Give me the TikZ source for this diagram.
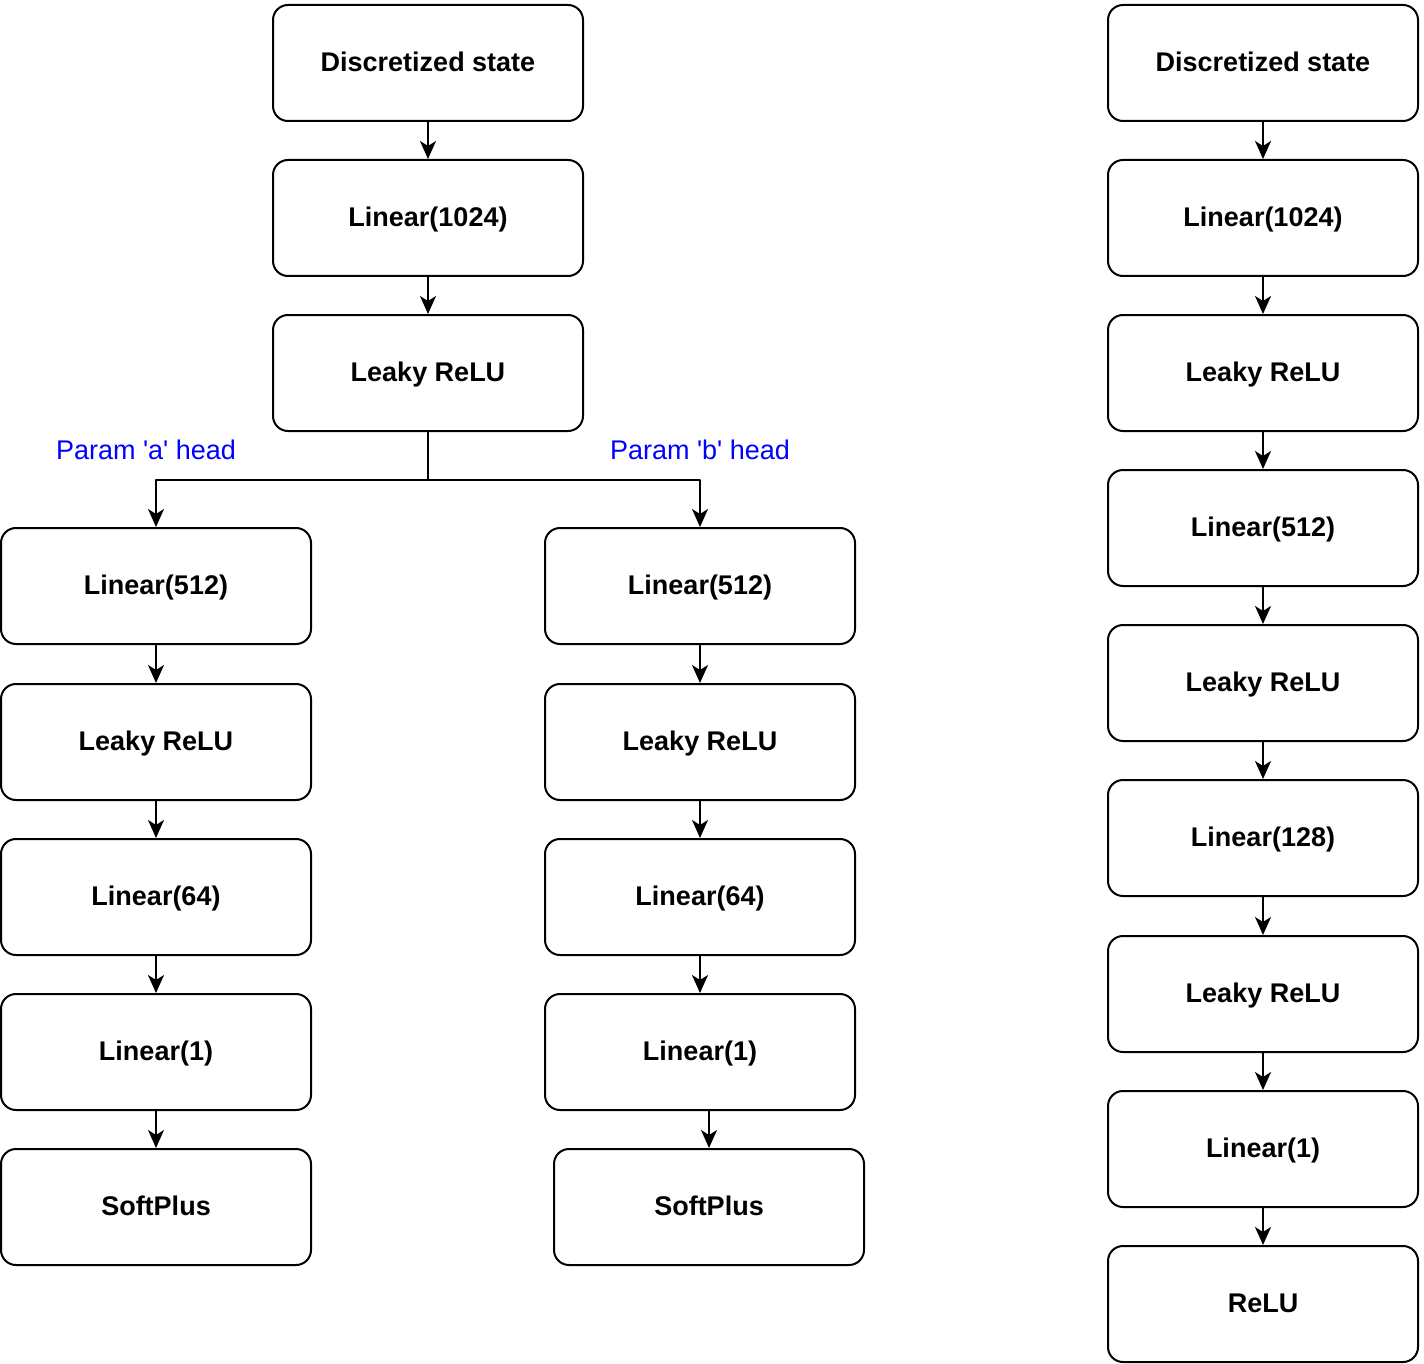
\documentclass[tikz,border=0pt]{standalone}
\usepackage{fontspec}
\setmainfont{Liberation Sans}
\usetikzlibrary{arrows.meta}
\tikzset{
	layer/.style={draw,line width=2pt,rounded corners=15pt,minimum width=310pt,minimum height=116pt,
		inner sep=0pt,text height=19pt,text depth=2pt,font=\fontsize{27}{31}\selectfont\bfseries},
	headlabel/.style={text=blue,font=\fontsize{27}{31}\selectfont},
	flow/.style={line width=2pt,-{Stealth[length=18pt,width=16pt,inset=5pt]}}
}
\begin{document}
\begin{tikzpicture}[x=1pt,y=-1pt,line join=round]
	\useasboundingbox (0,0) rectangle (1424,1364);
	% trunk
	\node[layer] (t1) at (428,63) {Discretized state};
	\node[layer] (t2) at (428,218) {Linear(1024)};
	\node[layer] (t3) at (428,373) {Leaky ReLU};
	\draw[flow] (t1.south) -- (t2.north);
	\draw[flow] (t2.south) -- (t3.north);
	% heads
	\node[layer] (a1) at (156,586) {Linear(512)};
	\node[layer] (a2) at (156,742) {Leaky ReLU};
	\node[layer] (a3) at (156,897) {Linear(64)};
	\node[layer] (a4) at (156,1052) {Linear(1)};
	\node[layer] (a5) at (156,1207) {SoftPlus};
	\node[layer] (b1) at (700,586) {Linear(512)};
	\node[layer] (b2) at (700,742) {Leaky ReLU};
	\node[layer] (b3) at (700,897) {Linear(64)};
	\node[layer] (b4) at (700,1052) {Linear(1)};
	\node[layer] (b5) at (709,1207) {SoftPlus};
	\foreach \i/\j in {1/2,2/3,3/4,4/5}{
		\draw[flow] (a\i.south) -- (a\j.north);
	}
	\foreach \i/\j in {1/2,2/3,3/4}{
		\draw[flow] (b\i.south) -- (b\j.north);
	}
	\draw[flow] (b5.north |- b4.south) -- (b5.north);
	\coordinate (split) at (428,480);
	\draw[line width=2pt] (t3.south) -- (split);
	\draw[flow] (split) -| (a1.north);
	\draw[flow] (split) -| (b1.north);
	\node[headlabel] (alabel) at (146,450) {Param \textquotesingle a\textquotesingle{} head};
	\node[headlabel] (blabel) at (700,450) {Param \textquotesingle b\textquotesingle{} head};
	% second network
	\foreach \n/\y/\txt in {1/63/Discretized state,2/218/Linear(1024),3/373/Leaky ReLU,
		4/528/Linear(512),5/683/Leaky ReLU,6/838/Linear(128),7/994/Leaky ReLU,
		8/1149/Linear(1),9/1304/ReLU}{
		\node[layer] (r\n) at (1263,\y) {\txt};
	}
	\foreach \i [evaluate=\i as \j using int(\i+1)] in {1,...,8}{
		\draw[flow] (r\i.south) -- (r\j.north);
	}
\end{tikzpicture}
\end{document}
